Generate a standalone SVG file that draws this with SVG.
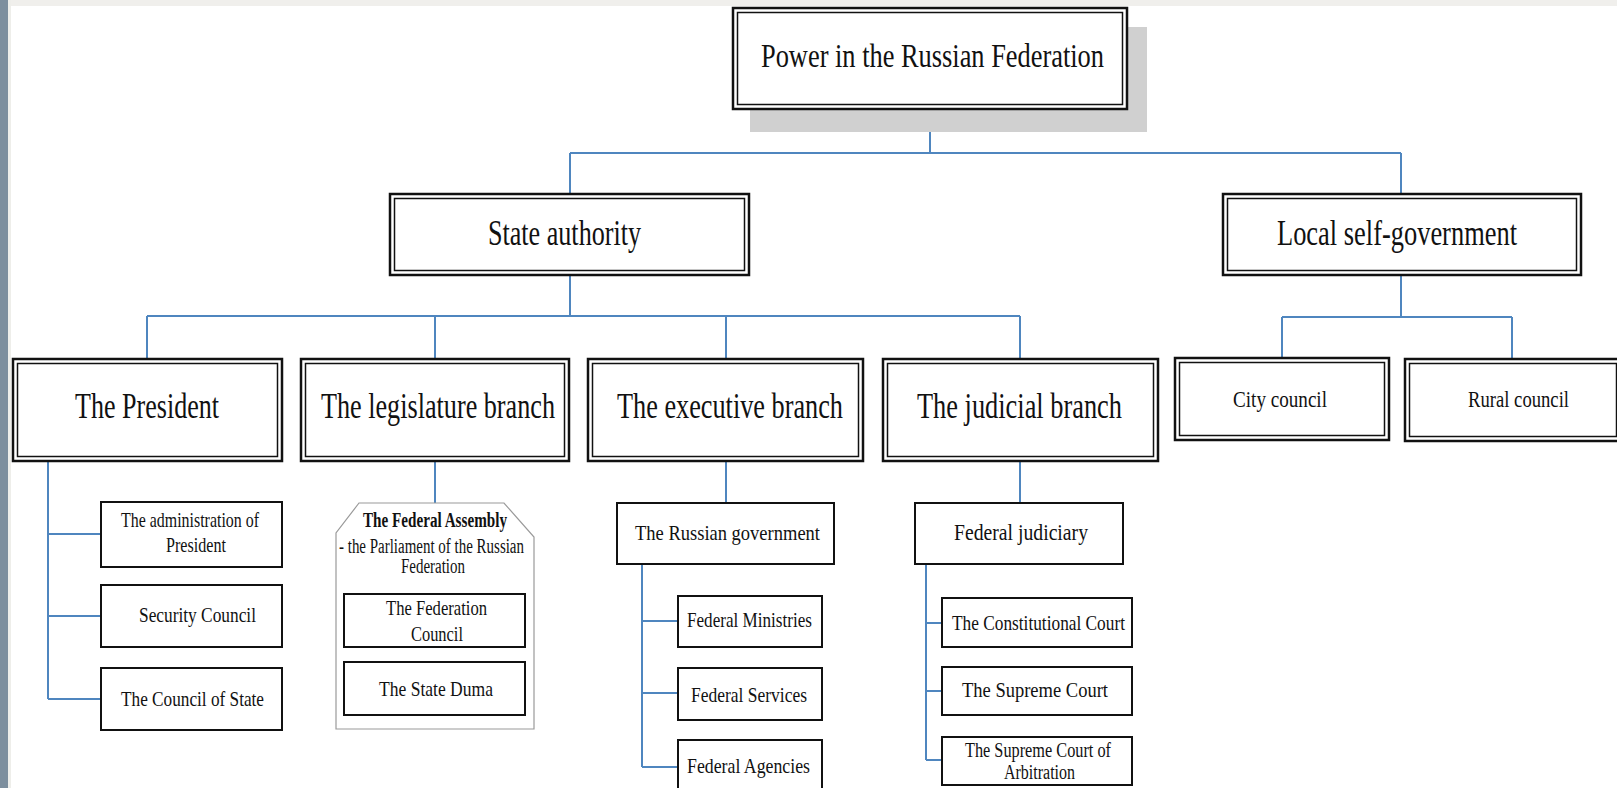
<svg xmlns="http://www.w3.org/2000/svg" width="1617" height="788" viewBox="0 0 1617 788">
<defs>
<style>
.bg{fill:#ffffff}
.o{fill:#ffffff;stroke:#111;stroke-width:2.5}
.i{fill:none;stroke:#111;stroke-width:1.5}
.s{fill:#ffffff;stroke:#111;stroke-width:2}
.fa{fill:#ffffff;stroke:#9a9a9a;stroke-width:1.2}
.c{fill:none;stroke:#4f86bf;stroke-width:2}
text{font-family:"Liberation Serif","Times New Roman",serif;fill:#111}
.t1{font-size:34px}
.t2{font-size:35px}
.t3{font-size:23px}
.t4{font-size:22px}
.t5{font-size:20px}
.b{font-weight:bold}
</style>
</defs>
<rect class="bg" x="0" y="0" width="1617" height="788"/>
<rect x="0" y="0" width="1617" height="6" fill="#f0efec"/>
<rect x="8" y="0" width="3" height="788" fill="#eeeeea"/>
<rect x="0" y="0" width="8" height="788" fill="#7d8f9e"/>

<g id="connectors">
<path class="c" d="M930,110 V153 M570,153 H1401 M570,153 V193 M1401,153 V193"/>
<path class="c" d="M570,276 V316 M147,316 H1020 M147,316 V358 M435,316 V358 M726,316 V358 M1020,316 V358"/>
<path class="c" d="M1401,276 V317 M1282,317 H1512 M1282,317 V357 M1512,317 V358"/>
<path class="c" d="M48,462 V699 M48,534 H101 M48,616 H101 M48,699 H101"/>
<path class="c" d="M435,462 V503"/>
<path class="c" d="M726,462 V503 M642,564 V767 M642,621 H678 M642,693 H678 M642,767 H678"/>
<path class="c" d="M1020,462 V503 M926,564 V760 M926,623 H942 M926,691 H942 M926,760 H942"/>
</g>

<g id="power">
<rect x="750" y="27" width="397" height="105" fill="#d0d0d0"/>
<rect class="o" x="733" y="8" width="394" height="101"/>
<rect class="i" x="737.5" y="12.5" width="385" height="92"/>
<text class="t1" x="761" y="67" textLength="343" lengthAdjust="spacingAndGlyphs">Power in the Russian Federation</text>
</g>

<g id="state">
<rect class="o" x="390" y="194" width="359" height="81"/>
<rect class="i" x="394.5" y="198.5" width="350" height="72"/>
<text class="t2" x="488" y="245" textLength="153" lengthAdjust="spacingAndGlyphs">State authority</text>
</g>

<g id="local">
<rect class="o" x="1223" y="194" width="358" height="81"/>
<rect class="i" x="1227.5" y="198.5" width="349" height="72"/>
<text class="t2" x="1277" y="245" textLength="240" lengthAdjust="spacingAndGlyphs">Local self-government</text>
</g>

<g id="president">
<rect class="o" x="13" y="359" width="269" height="102"/>
<rect class="i" x="17.5" y="363.5" width="260" height="93"/>
<text class="t2" x="75" y="418" textLength="144" lengthAdjust="spacingAndGlyphs">The President</text>
</g>

<g id="legislature">
<rect class="o" x="301" y="359" width="268" height="102"/>
<rect class="i" x="305.5" y="363.5" width="259" height="93"/>
<text class="t2" x="321" y="418" textLength="234" lengthAdjust="spacingAndGlyphs">The legislature branch</text>
</g>

<g id="executive">
<rect class="o" x="588" y="359" width="275" height="102"/>
<rect class="i" x="592.5" y="363.5" width="266" height="93"/>
<text class="t2" x="617" y="418" textLength="226" lengthAdjust="spacingAndGlyphs">The executive branch</text>
</g>

<g id="judicial">
<rect class="o" x="883" y="359" width="275" height="102"/>
<rect class="i" x="887.5" y="363.5" width="266" height="93"/>
<text class="t2" x="917" y="418" textLength="205" lengthAdjust="spacingAndGlyphs">The judicial branch</text>
</g>

<g id="city">
<rect class="o" x="1175" y="358" width="214" height="82"/>
<rect class="i" x="1179.5" y="362.5" width="205" height="73"/>
<text class="t3" x="1233" y="407" textLength="94" lengthAdjust="spacingAndGlyphs">City council</text>
</g>

<g id="rural">
<rect class="o" x="1405" y="359" width="216" height="82"/>
<rect class="i" x="1409.5" y="363.5" width="207" height="73"/>
<text class="t3" x="1468" y="407" textLength="101" lengthAdjust="spacingAndGlyphs">Rural council</text>
</g>

<g id="admin">
<rect class="s" x="101" y="502" width="181" height="65"/>
<text class="t4" x="121" y="527" textLength="138" lengthAdjust="spacingAndGlyphs">The administration of</text>
<text class="t4" x="166" y="552" textLength="60" lengthAdjust="spacingAndGlyphs">President</text>
</g>

<g id="security">
<rect class="s" x="101" y="585" width="181" height="62"/>
<text class="t4" x="139" y="622" textLength="117" lengthAdjust="spacingAndGlyphs">Security Council</text>
</g>

<g id="council-state">
<rect class="s" x="101" y="668" width="181" height="62"/>
<text class="t4" x="121" y="706" textLength="143" lengthAdjust="spacingAndGlyphs">The Council of State</text>
</g>

<g id="federal-assembly">
<polygon class="fa" points="359,503 504,503 534,537 534,729 336,729 336,533"/>
<text class="t5 b" x="363" y="527" textLength="144" lengthAdjust="spacingAndGlyphs">The Federal Assembly</text>
<text class="t5" x="339" y="553" textLength="185" lengthAdjust="spacingAndGlyphs">- the Parliament of the Russian</text>
<text class="t5" x="401" y="573" textLength="64" lengthAdjust="spacingAndGlyphs">Federation</text>
</g>

<g id="federation-council">
<rect class="s" x="344" y="594" width="181" height="53"/>
<text class="t4" x="386" y="615" textLength="101" lengthAdjust="spacingAndGlyphs">The Federation</text>
<text class="t4" x="411" y="641" textLength="52" lengthAdjust="spacingAndGlyphs">Council</text>
</g>

<g id="state-duma">
<rect class="s" x="344" y="662" width="181" height="53"/>
<text class="t4" x="379" y="696" textLength="114" lengthAdjust="spacingAndGlyphs">The State Duma</text>
</g>

<g id="russian-government">
<rect class="s" x="617" y="503" width="217" height="61"/>
<text class="t4" x="635" y="540" textLength="185" lengthAdjust="spacingAndGlyphs">The Russian government</text>
</g>

<g id="ministries">
<rect class="s" x="678" y="596" width="144" height="51"/>
<text class="t4" x="687" y="627" textLength="125" lengthAdjust="spacingAndGlyphs">Federal Ministries</text>
</g>

<g id="services">
<rect class="s" x="678" y="668" width="144" height="52"/>
<text class="t4" x="691" y="702" textLength="116" lengthAdjust="spacingAndGlyphs">Federal Services</text>
</g>

<g id="agencies">
<rect class="s" x="678" y="740" width="144" height="60"/>
<text class="t4" x="687" y="773" textLength="123" lengthAdjust="spacingAndGlyphs">Federal Agencies</text>
</g>

<g id="federal-judiciary">
<rect class="s" x="915" y="503" width="208" height="61"/>
<text class="t3" x="954" y="540" textLength="134" lengthAdjust="spacingAndGlyphs">Federal judiciary</text>
</g>

<g id="constitutional">
<rect class="s" x="942" y="598" width="190" height="49"/>
<text class="t4" x="952" y="630" textLength="173" lengthAdjust="spacingAndGlyphs">The Constitutional Court</text>
</g>

<g id="supreme">
<rect class="s" x="942" y="667" width="190" height="48"/>
<text class="t4" x="962" y="697" textLength="146" lengthAdjust="spacingAndGlyphs">The Supreme Court</text>
</g>

<g id="arbitration">
<rect class="s" x="942" y="737" width="190" height="48"/>
<text class="t5" x="965" y="757" textLength="146" lengthAdjust="spacingAndGlyphs">The Supreme Court of</text>
<text class="t5" x="1004" y="779" textLength="71" lengthAdjust="spacingAndGlyphs">Arbitration</text>
</g>
</svg>
